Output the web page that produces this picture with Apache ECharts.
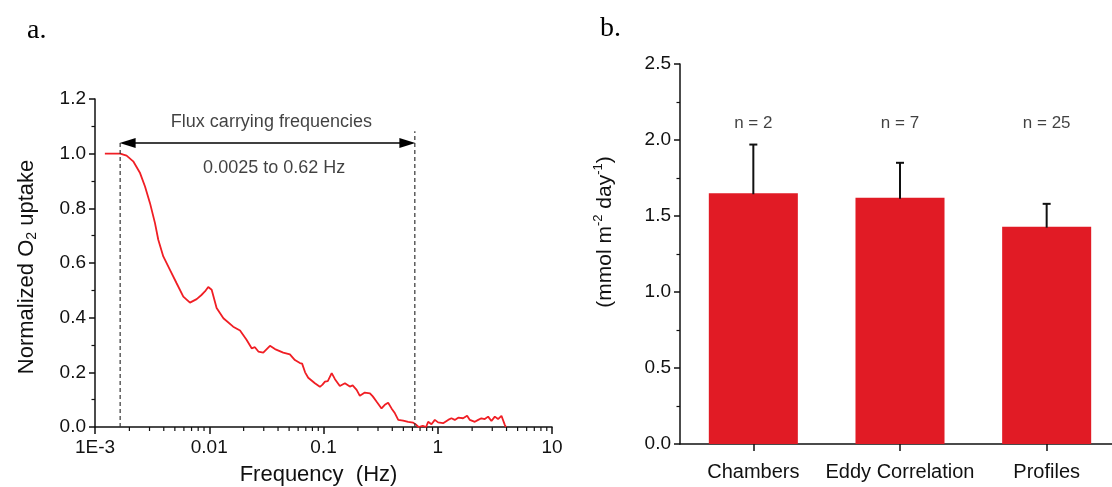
<!DOCTYPE html>
<html><head><meta charset="utf-8">
<script src="https://cdn.jsdelivr.net/npm/echarts@6/dist/echarts.min.js"></script>
<style>html,body{margin:0;padding:0;background:#fff}#c{width:1112px;height:487px}</style>
</head><body><div id="c"></div>
<script>
// ---- Panel a: normalized O2 uptake vs frequency ----
const freq = [0.00122,0.0014,0.00166,0.00189,0.00216,0.00248,0.00274,0.00303,0.00335,0.00358,0.00396,0.00453,0.00518,0.00593,0.00678,0.00776,0.0085,0.00917,0.0098,0.0105,0.0116,0.0133,0.0162,0.0186,0.0212,0.0235,0.0251,0.0269,0.0297,0.034,0.0376,0.0444,0.0508,0.0562,0.0622,0.065,0.069,0.0735,0.0841,0.093,0.098,0.103,0.109,0.118,0.126,0.139,0.154,0.170,0.180,0.195,0.208,0.230,0.255,0.27,0.291,0.322,0.344,0.368,0.394,0.422,0.451,0.498,0.551,0.609,0.652,0.68,0.74,0.79,0.824,0.881,0.943,1.007,1.114,1.233,1.318,1.41,1.51,1.667,1.807,1.91,2.11,2.26,2.41,2.58,2.76,2.95,3.16,3.37,3.61,3.87,3.95];
const uptake = [1.0,1.0,1.0,0.993,0.972,0.929,0.880,0.819,0.746,0.685,0.624,0.575,0.526,0.477,0.455,0.468,0.482,0.496,0.512,0.502,0.435,0.398,0.367,0.353,0.319,0.288,0.292,0.276,0.272,0.297,0.285,0.272,0.266,0.245,0.234,0.232,0.200,0.180,0.160,0.147,0.155,0.166,0.168,0.197,0.175,0.150,0.160,0.148,0.152,0.136,0.114,0.126,0.123,0.112,0.093,0.068,0.081,0.089,0.068,0.050,0.026,0.023,0.019,0.016,0.007,0.0,0.004,0.0,0.019,0.010,0.026,0.017,0.014,0.026,0.032,0.026,0.034,0.032,0.041,0.026,0.019,0.026,0.032,0.029,0.038,0.022,0.038,0.029,0.041,0.007,0.0];
const bandLimits = [0.00166, 0.63];       // dashed lines (Hz)
const bandLineTops = [1.039, 1.082];      // top of the dashed lines
const arrowEnds = [0.00193, 0.542];       // arrow symbol centres (tips reach the dashed lines)
const arrowLevel = 1.039;
const annotationTexts = ['Flux carrying frequencies', '0.0025 to 0.62 Hz'];
const annotationFreq = [0.035, 0.037];
const annotationLevel = [1.117, 0.948];
const xTickLabels = ['1E-3','0.01','0.1','1','10'];
const yTicksA = [0, 1.2, 0.2];

// ---- Panel b: fluxes by method ----
const categories = ['Chambers','Eddy Correlation','Profiles'];
const fluxMean = [1.65, 1.62, 1.43];
const fluxSD = [0.32, 0.23, 0.15];
const nLabels = ['n = 2','n = 7','n = 25'];
const nLabelLevel = 2.11;

const minorFreqs = [];
for (let e = -3; e < 1; e++) for (let m = 2; m <= 9; m++) minorFreqs.push(m * Math.pow(10, e));

const FONT = "'Liberation Sans', Arial, sans-serif";
const TXT = '#111';
const AX = {lineStyle:{color:'#111', width:1.5}};

const chart = echarts.init(document.getElementById('c'), null, {renderer:'canvas'});
chart.setOption({
  animation:false,
  backgroundColor:'#fff',
  textStyle:{fontFamily:FONT},
  graphic:[
    {type:'text', left:27, top:17, style:{text:'a.', font:"28px 'Liberation Serif', 'Times New Roman', serif", fill:'#000'}},
    {type:'text', left:600, top:15, style:{text:'b.', font:"28px 'Liberation Serif', 'Times New Roman', serif", fill:'#000'}}
  ],
  grid:[
    {left:95, top:99, width:457, height:328, outerBoundsMode:'none', containLabel:false},
    {left:680, top:64, width:440, height:380, outerBoundsMode:'none', containLabel:false}
  ],
  xAxis:[
    {type:'log', gridIndex:0, logBase:10, min:0.001, max:10,
     axisLine:AX, axisTick:{show:true, length:7, lineStyle:{color:'#111', width:1.5}},
     splitLine:{show:false}, minorTick:{show:false},
     axisLabel:{fontSize:19, color:TXT, margin:11, fontFamily:FONT,
       formatter:v => xTickLabels[Math.round(Math.log10(v)) + 3]},
     name:'Frequency  (Hz)', nameLocation:'middle', nameGap:37,
     nameTextStyle:{fontSize:22, color:TXT, fontFamily:FONT, padding:[0,10,0,0]}},
    {type:'category', gridIndex:1, data:categories,
     axisLine:AX, axisTick:{show:true, alignWithLabel:true, length:7, lineStyle:{color:'#111', width:1.5}},
     axisLabel:{fontSize:20, color:TXT, margin:18, fontFamily:FONT, interval:0, hideOverlap:false}}
  ],
  yAxis:[
    {type:'value', gridIndex:0, min:yTicksA[0], max:yTicksA[1], interval:yTicksA[2],
     axisLine:{show:true, ...AX}, axisTick:{show:true, length:6, lineStyle:{color:'#111', width:1.5}},
     minorTick:{show:true, splitNumber:2, length:3.5, lineStyle:{color:'#111', width:1.2}},
     splitLine:{show:false}, minorSplitLine:{show:false},
     axisLabel:{fontSize:19, color:TXT, margin:9, formatter:v => v.toFixed(1)},
     name:'{t|Normalized O}{s|2}{t| uptake}', nameLocation:'middle', nameGap:56,
     nameTextStyle:{color:TXT, padding:[0,8,0,0], rich:{t:{fontSize:22, lineHeight:25, color:TXT, fontFamily:FONT}, s:{fontSize:14, verticalAlign:'bottom', lineHeight:14, color:TXT, fontFamily:FONT}}}},
    {type:'value', gridIndex:1, min:0, max:2.5, interval:0.5,
     axisLine:{show:true, ...AX}, axisTick:{show:true, length:6, lineStyle:{color:'#111', width:1.5}},
     minorTick:{show:true, splitNumber:2, length:3.5, lineStyle:{color:'#111', width:1.2}},
     splitLine:{show:false}, minorSplitLine:{show:false},
     axisLabel:{fontSize:19, color:TXT, margin:9, formatter:v => v.toFixed(1)},
     name:'{t|(mmol m}{p|-2}{t| day}{p|-1}{t|)}', nameLocation:'middle', nameGap:62,
     nameTextStyle:{color:TXT, padding:[0,0,0,44], rich:{t:{fontSize:21, lineHeight:26, color:TXT, fontFamily:FONT}, p:{fontSize:13, verticalAlign:'top', lineHeight:13, color:TXT, fontFamily:FONT}}}}
  ],
  series:[
    {type:'line', xAxisIndex:0, yAxisIndex:0, data:freq.map((f,i)=>[f, uptake[i]]),
     showSymbol:false, smooth:false, lineStyle:{color:'#f01e24', width:1.8}, clip:false, z:3,
     markLine:{silent:true, symbol:['triangle','triangle'], symbolSize:[10,16], precision:6,
       lineStyle:{color:'#000', width:1.5, type:'solid'}, label:{show:false},
       data:[[{coord:[arrowEnds[0], arrowLevel]},{coord:[arrowEnds[1], arrowLevel]}]]}},
    {type:'line', xAxisIndex:0, yAxisIndex:0, data:[[bandLimits[0],0],[bandLimits[0],bandLineTops[0]]],
     showSymbol:false, lineStyle:{color:'#333', width:1.2, type:[4,3]}},
    {type:'line', xAxisIndex:0, yAxisIndex:0, data:[[bandLimits[1],0],[bandLimits[1],bandLineTops[1]]],
     showSymbol:false, lineStyle:{color:'#333', width:1.2, type:[4,3]}},
    {type:'scatter', xAxisIndex:0, yAxisIndex:0, symbolSize:0, silent:true,
     data:annotationTexts.map((t,i)=>({value:[annotationFreq[i], annotationLevel[i]], name:t})),
     label:{show:true, position:'inside', formatter:p=>p.name, fontSize:18, color:TXT, fontFamily:FONT}},
    {type:'custom', xAxisIndex:0, yAxisIndex:0, silent:true, clip:false,
     data:minorFreqs.map(f=>[f,0]),
     renderItem:(params, api)=>{
       const p = api.coord([api.value(0), 0]);
       return {type:'line', shape:{x1:p[0], y1:p[1], x2:p[0], y2:p[1]+4}, style:{stroke:'#111', lineWidth:1.2}};
     }},
    {type:'bar', xAxisIndex:1, yAxisIndex:1, data:fluxMean, barWidth:'60.7%',
     itemStyle:{color:'#e11b25'}},
    {type:'custom', xAxisIndex:1, yAxisIndex:1, silent:true, z:5,
     data:categories.map((c,i)=>[i, fluxMean[i], fluxMean[i]+fluxSD[i]]),
     renderItem:(params, api)=>{
       const b = api.coord([api.value(0), api.value(1)]);
       const t = api.coord([api.value(0), api.value(2)]);
       return {type:'group', children:[
         {type:'line', shape:{x1:b[0], y1:b[1]+1, x2:t[0], y2:t[1]}, style:{stroke:'#111', lineWidth:2}},
         {type:'line', shape:{x1:t[0]-4, y1:t[1], x2:t[0]+4, y2:t[1]}, style:{stroke:'#111', lineWidth:2}}
       ]};
     }},
    {type:'scatter', xAxisIndex:1, yAxisIndex:1, symbolSize:0, silent:true,
     data:categories.map((c,i)=>[i, nLabelLevel]),
     label:{show:true, position:'inside', formatter:p=>nLabels[p.dataIndex], fontSize:17, color:TXT, fontFamily:FONT}}
  ]
});
</script>
</body></html>
